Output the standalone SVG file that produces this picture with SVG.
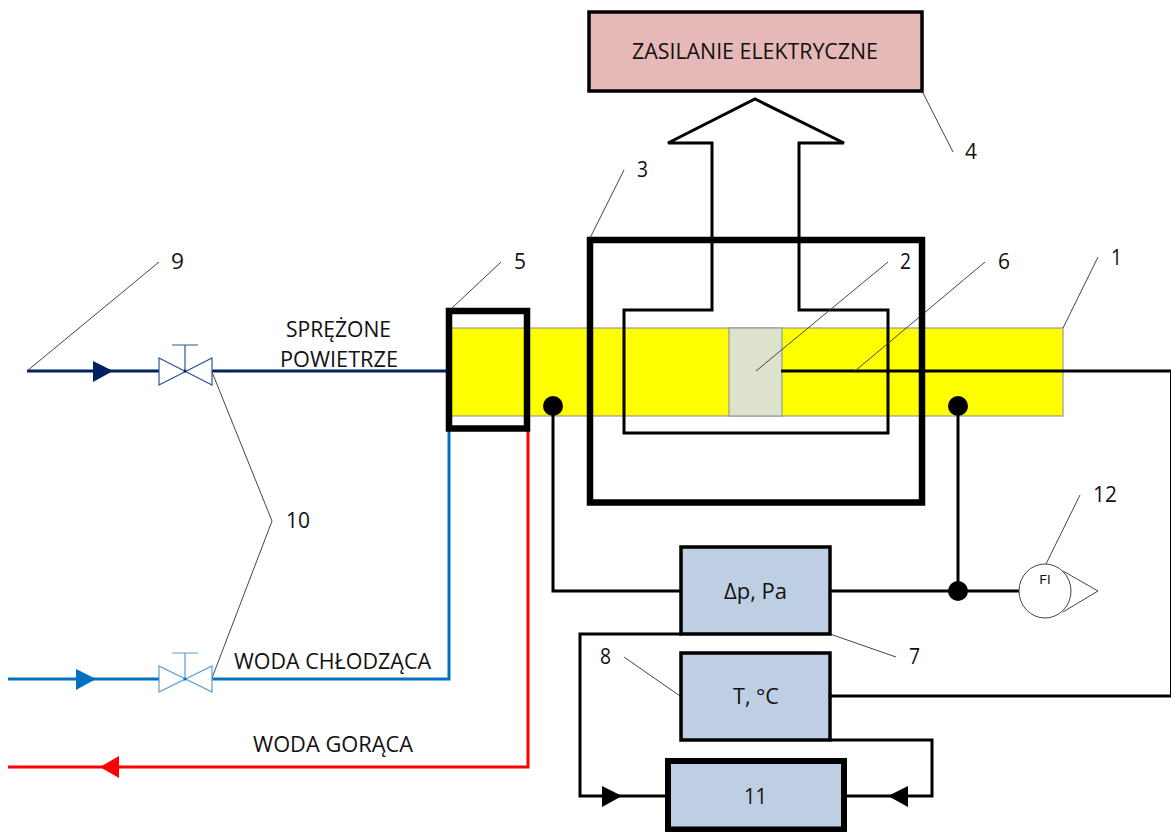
<svg xmlns="http://www.w3.org/2000/svg" width="1171" height="832" viewBox="0 0 1171 832">
<style>
text{font-family:"Open Sans","Noto Sans","Liberation Sans",sans-serif;font-size:21.5px;fill:#111;text-anchor:start}
.pipe{fill:#ffff00;stroke:#999;stroke-width:1.2}
.box{fill:#bfcfe3;stroke:#000;stroke-width:3.5}
.w{fill:none;stroke:#000;stroke-width:3;stroke-linejoin:miter}
.thick{fill:none;stroke:#000;stroke-width:6.5}
.lead{fill:none;stroke:#444;stroke-width:1}
.v{fill:#fff;stroke-width:1.2}
</style>
<rect width="1171" height="832" fill="#fff"/>
<g id="pipe-1"><rect class="pipe" x="449" y="328" width="614" height="88"/></g>
<g id="element-2"><rect x="729" y="328" width="53" height="88" fill="#dde2cd" stroke="#999" stroke-width="1.2"/></g>
<g id="connectors">
<path class="w" d="M781 371H1171.5V696H830"/>
<path class="w" d="M624 310H712V143H668L755 99L844 143H799V310H888V433H624Z"/>
<path class="w" d="M958 406V591M830 591H1019M553 406V591H681"/>
<path class="w" d="M681 634H580V796H667M830 740H932V796H845"/>
<path d="M27 371H159M212 371H449" fill="none" stroke="#002060" stroke-width="3"/>
<path d="M8 679H159M212 679H449V430" fill="none" stroke="#0070c0" stroke-width="3"/>
<path d="M8 767H528V430" fill="none" stroke="#ff0000" stroke-width="3"/>
<path d="M93 361L113 371L93 382Z" fill="#002060"/>
<path d="M76 669L96 679L76 690Z" fill="#0070c0"/>
<path d="M100 767L119 756V778Z" fill="#ff0000"/>
<path d="M602 786L622 796L602 807Z" fill="#000"/>
<path d="M888 796L908 786V807Z" fill="#000"/>
<circle cx="553" cy="406" r="10" fill="#000"/>
<circle cx="958" cy="406" r="10" fill="#000"/>
<circle cx="958" cy="591" r="10" fill="#000"/>
<g class="lead">
<path d="M27 371L159 262"/><path d="M452 308L501 262"/><path d="M212 372L272 521L212 678"/>
<path d="M590 238L624 170"/><path d="M922 91L953 152"/><path d="M756 371L888 262"/>
<path d="M855 371L985 262"/><path d="M1063 328L1098 257"/><path d="M1046 564L1080 495"/>
<path d="M830 634L896 657"/><path d="M624 657L680 696"/>
</g>
</g>
<g id="heater-3"><rect class="thick" x="590" y="240" width="332" height="262.5"/></g>
<g id="cooler-5"><rect class="thick" x="449" y="311" width="78" height="117.5"/></g>
<g id="power-4"><rect x="589" y="12" width="333" height="79" fill="#e6b8b7" stroke="#000" stroke-width="3.5"/>
<text x="632" y="59" textLength="246" lengthAdjust="spacingAndGlyphs">ZASILANIE ELEKTRYCZNE</text></g>
<g id="sensor-7"><rect class="box" x="681" y="547" width="149" height="87"/>
<text x="724" y="599" textLength="63" lengthAdjust="spacingAndGlyphs">Δp, Pa</text></g>
<g id="sensor-8"><rect class="box" x="681" y="653" width="149" height="87"/>
<text x="733" y="704" textLength="46" lengthAdjust="spacingAndGlyphs">T, °C</text></g>
<g id="unit-11"><rect x="668" y="761" width="176" height="68.5" fill="#bfcfe3" stroke="#000" stroke-width="6"/>
<text x="744" y="804" textLength="23" lengthAdjust="spacingAndGlyphs">11</text></g>
<g id="flow-12">
<ellipse cx="1045" cy="591" rx="26" ry="27" fill="#fff" stroke="#444" stroke-width="1"/>
<path d="M1063 571L1098 591L1063 612" fill="none" stroke="#444" stroke-width="1"/>
<text x="1039" y="584" style="font-size:13px" textLength="12" lengthAdjust="spacingAndGlyphs">FI</text></g>
<g id="valve-air" stroke="#2f5597">
<path class="v" d="M159 358V385L212 358V385Z"/><path fill="none" stroke-width="1.2" d="M185 371V345M172 345H198"/><circle cx="185" cy="371" r="1.5" fill="#002060" stroke="none"/>
</g>
<g id="valve-water" stroke="#5b9bd5">
<path class="v" d="M159 666V692L212 666V692Z"/><path fill="none" stroke-width="1.2" d="M185 679V653M172 653H198"/><circle cx="185" cy="679" r="1.5" fill="#0070c0" stroke="none"/>
</g>
<g id="labels">
<text x="286" y="337" textLength="105" lengthAdjust="spacingAndGlyphs">SPRĘŻONE</text>
<text x="280" y="367" textLength="118" lengthAdjust="spacingAndGlyphs">POWIETRZE</text>
<text x="234" y="669" textLength="197" lengthAdjust="spacingAndGlyphs">WODA CHŁODZĄCA</text>
<text x="253" y="752" textLength="160" lengthAdjust="spacingAndGlyphs">WODA GORĄCA</text>
<text x="171" y="269" textLength="13" lengthAdjust="spacingAndGlyphs">9</text><text x="514" y="269" textLength="12" lengthAdjust="spacingAndGlyphs">5</text><text x="286" y="528" textLength="24" lengthAdjust="spacingAndGlyphs">10</text>
<text x="637" y="177" textLength="11" lengthAdjust="spacingAndGlyphs">3</text><text x="965" y="159" textLength="12" lengthAdjust="spacingAndGlyphs">4</text><text x="900" y="269" textLength="11" lengthAdjust="spacingAndGlyphs">2</text><text x="998" y="269" textLength="12" lengthAdjust="spacingAndGlyphs">6</text>
<text x="1111" y="265" textLength="11" lengthAdjust="spacingAndGlyphs">1</text><text x="1093" y="502" textLength="24" lengthAdjust="spacingAndGlyphs">12</text>
<text x="909" y="664" textLength="11" lengthAdjust="spacingAndGlyphs">7</text><text x="600" y="664" textLength="11" lengthAdjust="spacingAndGlyphs">8</text>
</g>
</svg>
